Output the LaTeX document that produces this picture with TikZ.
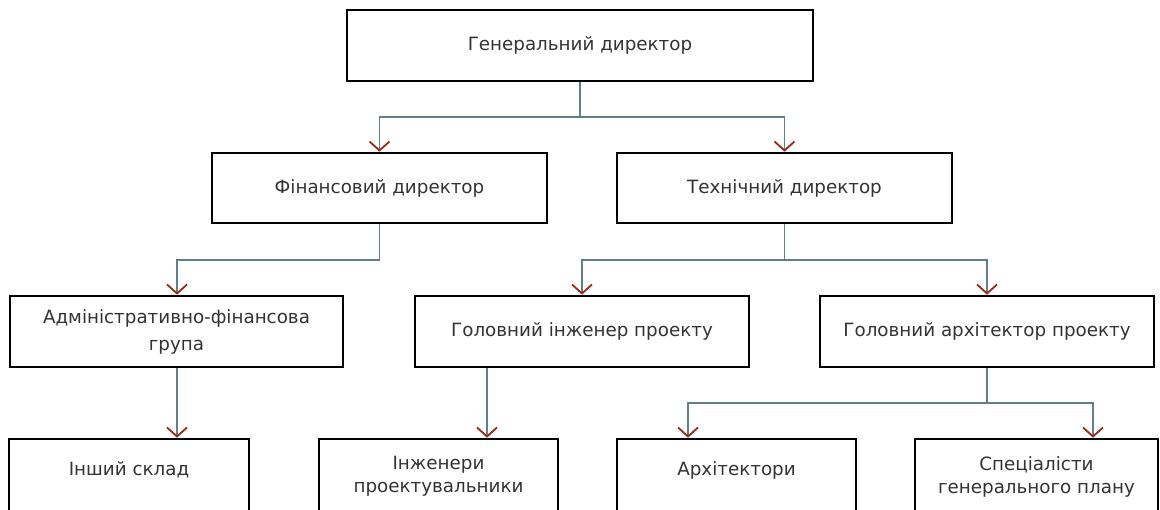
\documentclass[tikz,border=0pt]{standalone}
\usepackage{fontspec}
\setmainfont{DejaVu Sans}
\usetikzlibrary{arrows.meta}
\definecolor{lineblue}{HTML}{5F7F8F}
\definecolor{tipred}{HTML}{9A2A18}
\definecolor{txt}{HTML}{333333}
\tikzset{
  orgbox/.style={draw=black, line width=2.6pt, fill=white, minimum width=#1, inner sep=0pt,
    font=\fontsize{18.3}{27}\selectfont, text=txt, align=center},
  orgtext/.style={inner sep=0pt, font=\fontsize{18.3}{23}\selectfont, text=txt, align=center},
  conn/.style={draw=lineblue, line width=1.3pt,
    -{Straight Barb[length=9pt,width=20pt,line width=1.8pt,color=tipred]}},
  plain/.style={draw=lineblue, line width=1.3pt}
}
\begin{document}
\begin{tikzpicture}[x=1pt,y=-1pt]
\useasboundingbox (0,0) rectangle (1160,510);
\fill[white] (0,0) rectangle (1160,510);
\clip (0,0) rectangle (1160,510);
% row 1
\node[orgbox=466pt, minimum height=71pt] (gd) at (580,45.5) {Генеральний директор};
% row 2
\node[orgbox=335pt, minimum height=70pt] (fin) at (379.5,188) {Фінансовий директор};
\node[orgbox=335pt, minimum height=70pt] (tech) at (784.5,188) {Технічний директор};
% row 3
\node[orgbox=333pt, minimum height=71pt] (adm) at (176.5,331.5) {Адміністративно-фінансова\\група};
\node[orgbox=334pt, minimum height=71pt] (gie) at (582,331.5) {Головний інженер проекту};
\node[orgbox=334pt, minimum height=71pt] (gae) at (987,331.5) {Головний архітектор проекту};
% row 4 (boxes run past the bottom edge)
\node[orgbox=240pt, minimum height=80pt] (oth) at (129,479) {};
\node[orgbox=239pt, minimum height=80pt] (ing) at (438.5,479) {};
\node[orgbox=239pt, minimum height=80pt] (arch) at (736.5,479) {};
\node[orgbox=243pt, minimum height=80pt] (spec) at (1036.5,479) {};
\node[orgtext] (othT) at (129,470) {Інший склад};
\node[orgtext] (ingT) at (438.5,476.5) {Інженери\\проектувальники};
\node[orgtext] (archT) at (736.5,470) {Архітектори};
\node[orgtext] (specT) at (1036.5,476.5) {Спеціалісти\\генерального плану};
% bus points
\coordinate (b1) at (580,117);
\coordinate (b2) at (379.5,260);
\coordinate (b3) at (784.5,260);
\coordinate (b4) at (987,403);
\coordinate (xa) at (177,0);
\coordinate (xi) at (487,0);
\coordinate (xr) at (688,0);
\coordinate (xs) at (1093,0);
% connectors
\draw[plain] (gd.south) -- (b1);
\draw[conn] (b1) -| (fin.north);
\draw[conn] (b1) -| (tech.north);
\draw[plain] (fin.south) -- (b2);
\draw[conn] (b2) -| (adm.north -| xa);
\draw[plain] (tech.south) -- (b3);
\draw[conn] (b3) -| (gie.north);
\draw[conn] (b3) -| (gae.north);
\draw[conn] (adm.south -| xa) -- (oth.north -| xa);
\draw[conn] (gie.south -| xi) -- (ing.north -| xi);
\draw[plain] (gae.south) -- (b4);
\draw[conn] (b4) -| (arch.north -| xr);
\draw[conn] (b4) -| (spec.north -| xs);
\end{tikzpicture}
\end{document}
